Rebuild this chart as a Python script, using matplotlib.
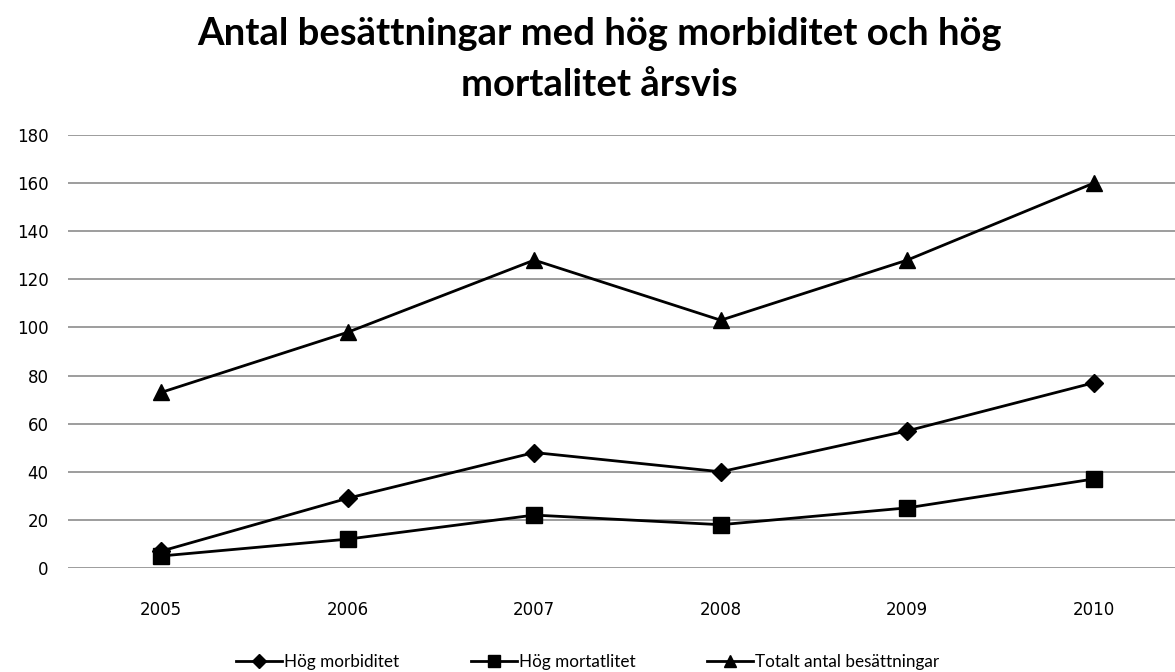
import matplotlib
matplotlib.use('Agg')
import matplotlib.pyplot as plt

years = ['2005', '2006', '2007', '2008', '2009', '2010']
morbiditet = [7, 29, 48, 40, 57, 77]
mortalitet = [5, 12, 22, 18, 25, 37]
totalt = [73, 98, 128, 103, 128, 160]

fig = plt.figure(figsize=(11.75, 6.72), dpi=100)
ax = fig.add_axes([68 / 1175, 104 / 672, 1119 / 1175, 433 / 672])

x = range(len(years))
ax.plot(x, morbiditet, 'k-', marker='D', markersize=9, linewidth=2, label='Hög morbiditet')
ax.plot(x, mortalitet, 'k-', marker='s', markersize=11, linewidth=2, label='Hög mortatlitet')
ax.plot(x, totalt, 'k-', marker='^', markersize=12, linewidth=2, label='Totalt antal besättningar')

ax.set_xlim(-0.5, 5.5)
ax.set_ylim(0, 180)
ax.set_yticks(range(0, 181, 20))
ax.set_xticks(list(x))
ax.set_xticklabels(years)
ax.yaxis.grid(True, color='#8c8c8c', linewidth=1.2)
ax.set_axisbelow(True)
for s in ax.spines.values():
    s.set_visible(False)
ax.tick_params(length=0, labelsize=12, pad=14)
ax.tick_params(axis='x', pad=24)

fig.text(0.51, 0.975, 'Antal besättningar med hög morbiditet och hög\nmortalitet årsvis',
         ha='center', va='top', fontsize=27.5, fontweight='bold', family='Lato',
         linespacing=1.6)

fig.legend(loc='center', bbox_to_anchor=(0.5, 10 / 672), ncol=3, frameon=False,
           prop={'family': 'Lato', 'size': 12.3}, handlelength=2.7, handletextpad=0.1,
           columnspacing=4.2, markerscale=0.75)

fig.savefig('out.png', dpi=100)
